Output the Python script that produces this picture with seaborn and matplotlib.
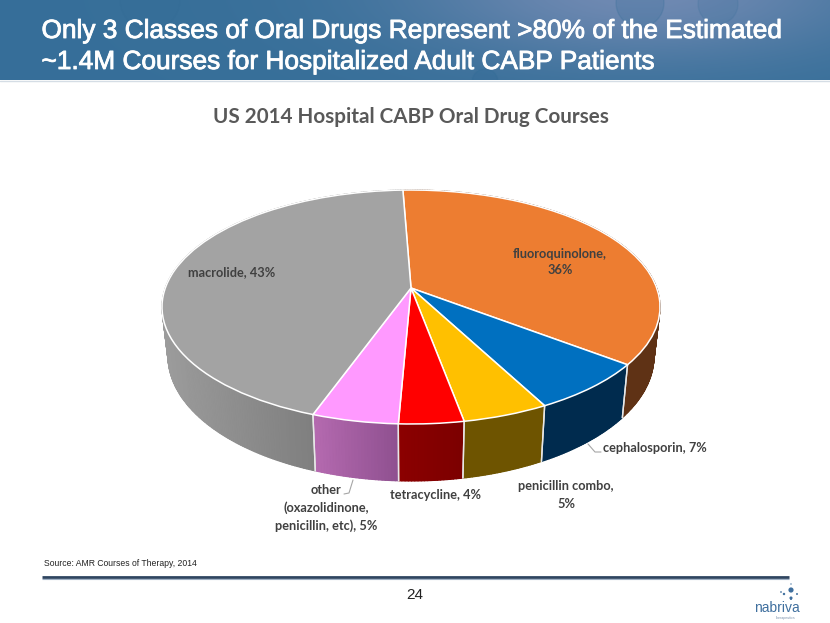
import numpy as np
import matplotlib
matplotlib.use("Agg")
import matplotlib.pyplot as plt
import matplotlib.patheffects as pe
from matplotlib.collections import PolyCollection
from matplotlib.patches import Circle, Rectangle
from matplotlib.path import Path
from matplotlib.transforms import Transform
import seaborn as sns

# ---- data ----
categories = ["fluoroquinolone", "cephalosporin", "penicillin combo", "tetracycline",
              "other (oxazolidinone, penicillin, etc)", "macrolide"]
shares = [36.0, 6.9, 4.8, 3.6, 4.8, 43.9]
label_texts = ["fluoroquinolone,\n36%", "cephalosporin, 7%", "penicillin combo,\n5%",
               "tetracycline, 4%", "other\n(oxazolidinone,\npenicillin, etc), 5%", "macrolide, 43%"]
top_colors = ["#ED7D31", "#0070C0", "#FFC000", "#FF0000", "#FF99FF", "#A3A3A3"]
side_left = ["#5F3215", "#002B4E", "#6E5400", "#8C0000", "#B56AB0", "#9C9C9C"]
side_right = ["#5F3215", "#002B4E", "#6E5400", "#7C0000", "#8F5090", "#6E6E6E"]
title_lines = ["Only 3 Classes of Oral Drugs Represent >80% of the Estimated",
               "~1.4M Courses for Hospitalized Adult CABP Patients"]
chart_title = "US 2014 Hospital CABP Oral Drug Courses"
source_text = "Source: AMR Courses of Therapy, 2014"
page_number = "24"

# ---- layout (pixels) ----
W, H = 830, 623
CX = 411
TILT = 0.1624
TOP = dict(a=245.7, b=113.9, c=288.0)
BOT = dict(a=239.8, b=121.7, c=335.7)
LABEL_POS = [(560, 262), (655, 448), (566, 495), (435, 495), (326, 508), (232, 272)]


class DiscProjection(Transform):
    """Projects the unit pie disc onto a tilted plane, in pixel coordinates."""
    input_dims = output_dims = 2
    has_inverse = False

    def __init__(self, a, b, c):
        super().__init__()
        self.a, self.b, self.c = a, b, c

    def transform_non_affine(self, values):
        values = np.asarray(values, dtype=float)
        u, v = values[:, 0], values[:, 1]
        d = 1 + TILT * v
        return np.column_stack([CX + self.a * u / d, self.c - self.b * v / d])

    def transform_path_non_affine(self, path):
        return Path(self.transform_non_affine(path.vertices), path.codes)


sns.set_theme(style="white")
fig = plt.figure(figsize=(W / 100, H / 100), dpi=100, facecolor="white")
ax = fig.add_axes([0, 0, 1, 1])
palette = sns.color_palette(top_colors)

# pie surface
wedges, _ = ax.pie(shares, colors=palette, startangle=92.2, counterclock=False,
                   wedgeprops=dict(edgecolor="white", linewidth=1.1, joinstyle="round"))
top_tf = DiscProjection(**TOP)
bot_tf = DiscProjection(**BOT)
for w in wedges:
    w.set_transform(top_tf + ax.transData)
    w.set_zorder(5)
    w.set_clip_on(False)

ax.set_aspect("auto")
ax.set_xlim(0, W)
ax.set_ylim(H, 0)
ax.axis("off")

# pie side wall: a solid underlay per wedge, then gradient strips along its arc
quads, qcolors = [], []
for w, cl, cr in zip(wedges, side_left, side_right):
    t1, t2 = sorted((w.theta1, w.theta2))
    ts = np.radians(np.linspace(t1, t2, int(max(t2 - t1, 4) * 1.5) + 2))
    pts = np.column_stack([np.cos(ts), np.sin(ts)])
    up, lo = top_tf.transform_non_affine(pts), bot_tf.transform_non_affine(pts)
    cl_, cr_ = np.array(matplotlib.colors.to_rgb(cl)), np.array(matplotlib.colors.to_rgb(cr))
    xmin, xmax = up[:, 0].min(), up[:, 0].max()
    ax.fill(np.r_[up[:, 0], lo[::-1, 0]], np.r_[up[:, 1], lo[::-1, 1]],
            color=(cl_ + cr_) / 2, lw=0, zorder=2.5)
    for i in range(len(ts) - 1):
        quads.append([up[i], up[i + 1], lo[i + 1], lo[i]])
        f = (0.5 * (up[i, 0] + up[i + 1, 0]) - xmin) / max(xmax - xmin, 1)
        qcolors.append(cl_ + (cr_ - cl_) * f)
    for k in (0, -1):
        if up[k, 1] > 300:
            ax.plot([up[k, 0], lo[k, 0]], [up[k, 1], lo[k, 1]], color="#E8E8E8", lw=1.0, zorder=4)
ax.add_collection(PolyCollection(quads, facecolors=qcolors, edgecolors=qcolors, linewidths=0.8, zorder=3))

# header band
gy, gx = np.mgrid[0:80, 0:W]
glow = np.exp(-(((gx - 640) / 230.0) ** 2 + ((gy + 10) / 70.0) ** 2))
base = np.array([0.215, 0.435, 0.60])
light = np.array([0.44, 0.54, 0.70])
band = base + (light - base) * glow[..., None]
ax.imshow(band, extent=(0, W, 80, 0), aspect="auto", zorder=1)
ax.set_xlim(0, W)
ax.set_ylim(H, 0)
clip = Rectangle((0, 0), W, 80, transform=ax.transData)
for (x, y, r, alpha) in [(640, 3, 24, 0.22), (718, 4, 20, 0.15), (485, 82, 13, 0.25), (150, 0, 30, 0.06)]:
    c = Circle((x, y), r, facecolor="#2F6A96", edgecolor="#2F6A96", alpha=alpha, zorder=1.5)
    ax.add_patch(c)
    c.set_clip_path(clip)
ax.plot([0, W], [80.5, 80.5], color="#D5DDE5", lw=1, zorder=2)

shadow = [pe.SimpleLineShadow(offset=(1.2, -1.2), shadow_color="#15324A", alpha=0.8),
          pe.withStroke(linewidth=0.6, foreground="white")]
for line, y in zip(title_lines, (31, 62)):
    ax.text(41.5, y, line, color="white", family="Liberation Sans", fontsize=18.9, weight="normal",
            ha="left", va="center", zorder=6, path_effects=shadow)

ax.text(410.5, 117, chart_title, color="#595959", family="Lato", weight="bold", fontsize=14.9,
        ha="center", va="center", zorder=6)

for text, (x, y) in zip(label_texts, LABEL_POS):
    ax.text(x, y, text, color="#404040", family="Lato", weight="bold", fontsize=9.2,
            ha="center", va="center", linespacing=1.5, zorder=6)

# leader lines
ax.plot([588, 595, 601], [444, 452, 452], color="#A6A6A6", lw=0.8, zorder=6)
ax.plot([353, 349, 344], [480, 493, 494], color="#A6A6A6", lw=0.8, zorder=6)

# footer
ax.text(44, 564, source_text, color="#222222", family="Liberation Sans", fontsize=6.2,
        ha="left", va="center", zorder=6)
ax.plot([42, 789], [577, 577], color="#2F4560", lw=2.0, zorder=6, solid_capstyle="butt")
ax.plot([42, 789], [578.6, 578.6], color="#9FB0C4", lw=0.8, zorder=6, solid_capstyle="butt")
ax.text(415, 595, page_number, color="#222222", family="Liberation Sans", fontsize=11,
        ha="center", va="center", zorder=6)

# logo
ax.text(777, 608, "nabriva", color="#3F6F9E", family="Liberation Sans", fontsize=10,
        ha="center", va="center", zorder=6)
ax.text(786, 618, "therapeutics", color="#7C93AD", family="Liberation Sans", fontsize=2.6,
        ha="center", va="center", zorder=6)
ax.scatter([791, 781, 791, 797, 784, 791, 791], [590, 592, 598, 594, 594, 584, 599],
           s=[14, 1.5, 5, 2, 3, 1, 2], color="#3F6F9E", linewidths=0, zorder=6)

fig.savefig("out.png", dpi=100, facecolor="white")
